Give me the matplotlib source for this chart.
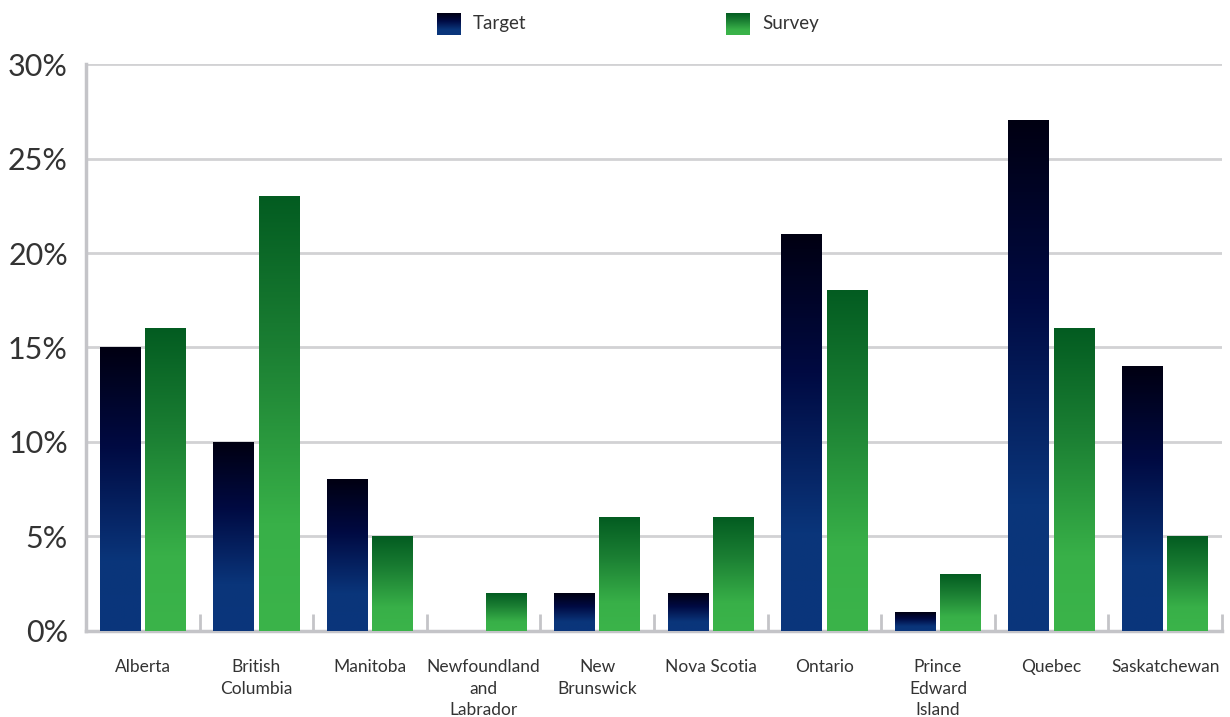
import numpy as np
import matplotlib
matplotlib.use('Agg')
import matplotlib.pyplot as plt
from matplotlib.colors import LinearSegmentedColormap

plt.rcParams['font.family'] = ['Lato', 'DejaVu Sans']

# data
provinces = ['Alberta', 'British\nColumbia', 'Manitoba', 'Newfoundland\nand\nLabrador',
             'New\nBrunswick', 'Nova Scotia', 'Ontario', 'Prince\nEdward\nIsland',
             'Quebec', 'Saskatchewan']
target = [15, 10, 8, 0, 2, 2, 21, 1, 27, 14]
survey = [16, 23, 5, 2, 6, 6, 18, 3, 16, 5]
yticks = [0, 5, 10, 15, 20, 25, 30]

# gradients, top -> bottom
blue_cm = LinearSegmentedColormap.from_list(
    'tblue', [(0, '#000012'), (0.35, '#000a42'), (0.75, '#0a357a'), (1, '#0a367c')])
green_cm = LinearSegmentedColormap.from_list(
    'sgreen', [(0, '#035c21'), (0.35, '#1b7f33'), (0.75, '#38b048'), (1, '#3bb44a')])
grad = np.linspace(0, 1, 256).reshape(-1, 1)

fig = plt.figure(figsize=(12.3, 7.17), dpi=100)
ax = fig.add_axes([0.0699, 0.120, 0.9236, 0.7907])

x = np.arange(len(provinces))
w = 0.36
grid_col = '#d2d2d4'


def grad_bars(xs, vals, cmap):
    bars = ax.bar(xs, vals, w, color='none', edgecolor='none', zorder=3)
    for b in bars:
        h = b.get_height()
        if h <= 0:
            continue
        x0 = b.get_x()
        ax.imshow(grad, cmap=cmap, aspect='auto', interpolation='bilinear',
                  extent=(x0, x0 + b.get_width(), 0, h), zorder=3)


grad_bars(x - 0.2, target, blue_cm)
grad_bars(x + 0.2, survey, green_cm)

ax.set_xlim(-0.5, len(provinces) - 0.5)
ax.set_ylim(0, 30)
ax.set_yticks(yticks)
ax.set_yticklabels([f'{v}%' for v in yticks])
ax.yaxis.grid(True, color=grid_col, linewidth=2, zorder=0)
ax.set_axisbelow(True)

ax.set_xticks(x)
ax.set_xticklabels(provinces, fontsize=12.5, color='#333333', linespacing=1.45)
ax.set_xticks(np.arange(0.5, len(provinces)), minor=True)
ax.tick_params(axis='x', which='major', length=0, pad=20)
ax.tick_params(axis='x', which='minor', direction='in', length=12, width=2, color='#c4c4c8')
ax.tick_params(axis='y', length=0, labelsize=22, labelcolor='#333333', pad=13)

for s in ['top', 'right']:
    ax.spines[s].set_visible(False)
for s in ['left', 'bottom']:
    ax.spines[s].set_color('#c4c4c8')
    ax.spines[s].set_linewidth(2.5)

# legend with gradient swatches
for cmap, label, px in [(blue_cm, 'Target', 437), (green_cm, 'Survey', 726)]:
    lax = fig.add_axes([px / 1230, 1 - 35 / 717, 24 / 1230, 22 / 717])
    lax.imshow(grad, cmap=cmap, aspect='auto', interpolation='bilinear')
    lax.axis('off')
    fig.text((px + 36) / 1230, 1 - 24 / 717, label, fontsize=13.5, color='#333333', va='center')

fig.savefig('out.png', dpi=100)
